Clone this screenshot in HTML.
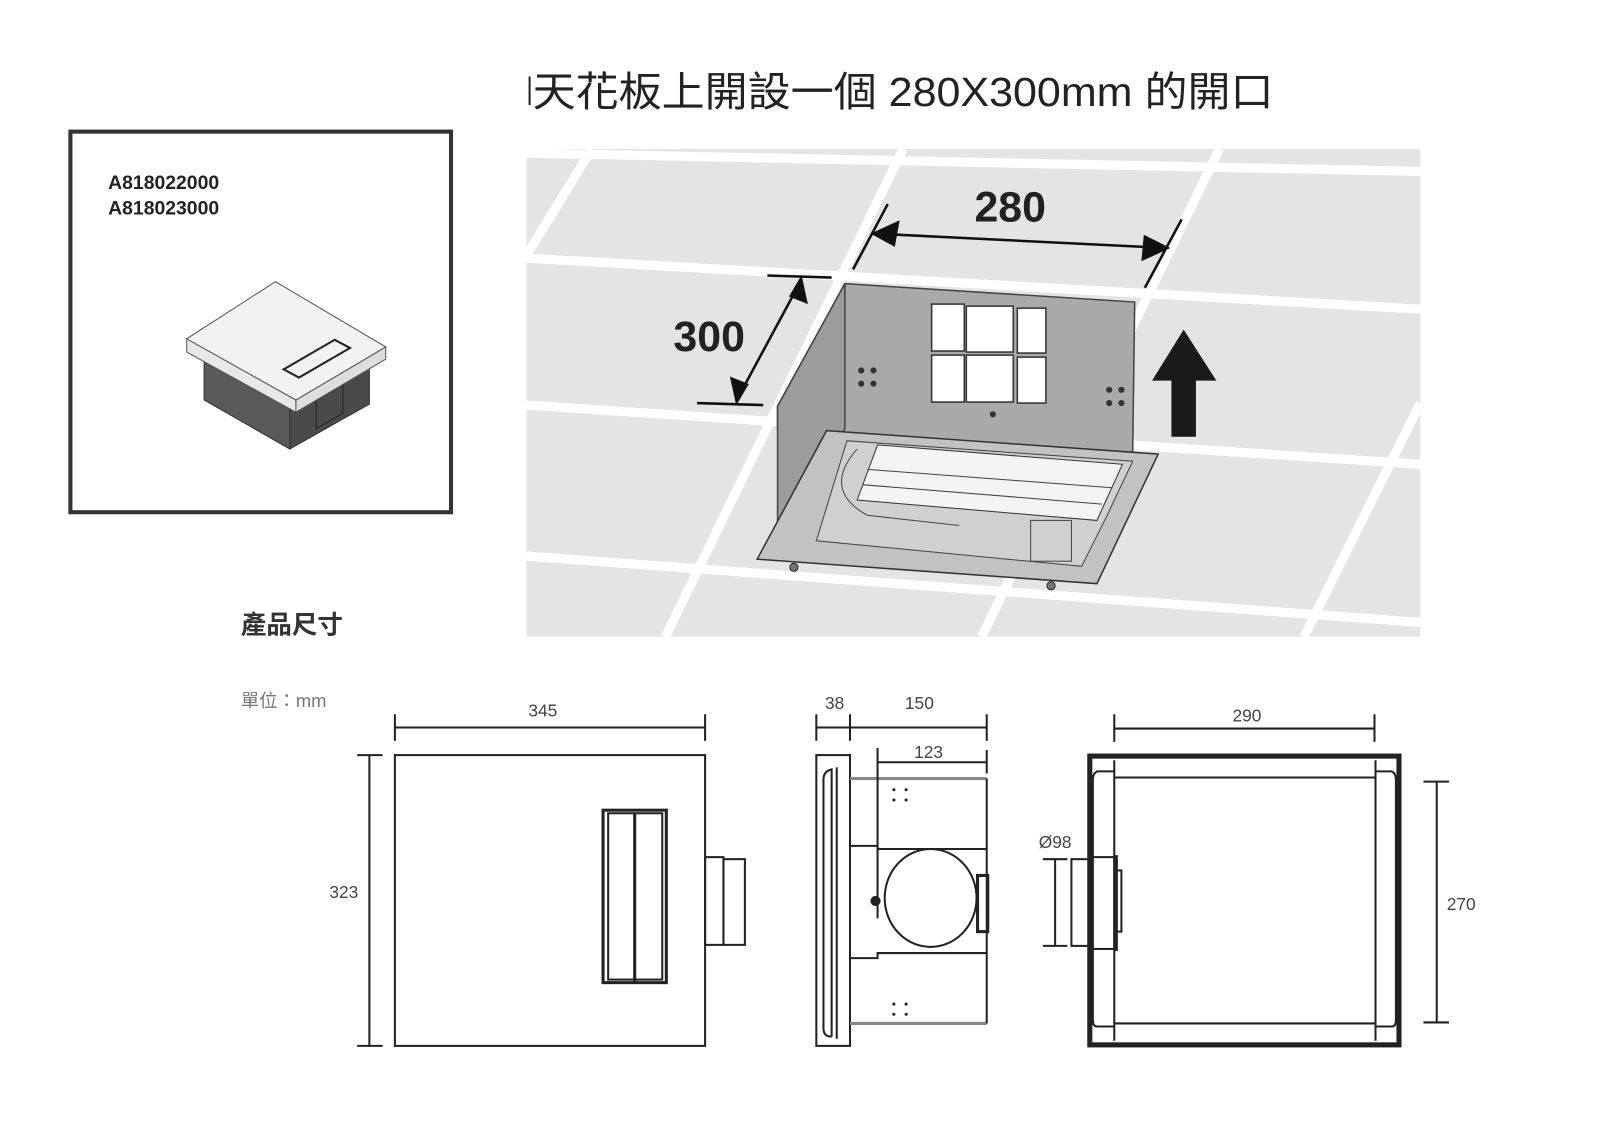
<!DOCTYPE html>
<html><head><meta charset="utf-8"><style>
html,body{margin:0;padding:0;background:#fff;}
svg{display:block;}
text{font-family:"Liberation Sans","Noto Sans CJK TC",sans-serif;}
</style></head><body>
<svg width="1600" height="1131" viewBox="0 0 1568 1108.4" preserveAspectRatio="none" xmlns="http://www.w3.org/2000/svg">
<rect x="518" y="75" width="2" height="28" fill="#222"/>
<text x="522" y="104" font-size="40" fill="#222" textLength="726" lengthAdjust="spacingAndGlyphs" font-family="'Noto Sans CJK TC',sans-serif">天花板上開設一個 280X300mm 的開口</text>

<rect x="69" y="129" width="373" height="373" fill="#fff" stroke="#333" stroke-width="4"/>
<text x="106" y="185" font-size="19" font-weight="bold" fill="#222">A818022000</text>
<text x="106" y="210" font-size="19" font-weight="bold" fill="#222">A818023000</text>
<polygon points="200,345 284,394 284,440 200,392" fill="#5a5a5a" stroke="#333"/>
<polygon points="284,394 362,350 362,396 284,440" fill="#4a4a4a" stroke="#333"/>
<polygon points="310,392 336,377 336,405 310,420" fill="none" stroke="#222"/>
<polygon points="183,332 290,392 290,404 183,345" fill="#e8e8e8" stroke="#555"/>
<polygon points="290,392 378,340 378,352 290,404" fill="#ddd" stroke="#555"/>
<polygon points="270,276 378,340 290,392 183,332" fill="#f2f2f2" stroke="#555"/>
<polygon points="278,362 328,333 343,341 293,370" fill="none" stroke="#222" stroke-width="2"/>

<rect x="516" y="146" width="876" height="478" fill="#e4e4e4"/>
<g stroke="#fff" stroke-width="9" fill="none">
<line x1="516" y1="150" x2="1392" y2="168"/>
<line x1="516" y1="253" x2="1392" y2="303"/>
<line x1="516" y1="397" x2="1392" y2="455"/>
<line x1="516" y1="545" x2="1392" y2="610"/>
<line x1="580" y1="146" x2="516" y2="250"/>
<line x1="885" y1="146" x2="652" y2="624"/>
<line x1="1195" y1="146" x2="962" y2="624"/>
<line x1="1392" y1="395" x2="1278" y2="624"/>
</g>
<polygon points="828,278 1112,296 1110,445 762,420 762,398" fill="#a9a9a9" stroke="#444" stroke-width="1.5"/>
<polygon points="828,278 762,398 762,530 828,420" fill="#9c9c9c" stroke="#444" stroke-width="1.5"/>
<g fill="#fff" stroke="#333" stroke-width="1.5">
<rect x="913" y="298" width="32" height="46"/><rect x="947" y="300" width="46" height="45"/><rect x="997" y="302" width="28" height="44"/>
<rect x="913" y="348" width="32" height="46"/><rect x="947" y="348" width="46" height="46"/><rect x="997" y="350" width="28" height="45"/>
</g>
<g fill="#333"><circle cx="844" cy="363" r="3"/><circle cx="856" cy="363" r="3"/><circle cx="844" cy="376" r="3"/><circle cx="856" cy="376" r="3"/>
<circle cx="1087" cy="382" r="3"/><circle cx="1099" cy="382" r="3"/><circle cx="1087" cy="395" r="3"/><circle cx="1099" cy="395" r="3"/><circle cx="973" cy="406" r="3"/></g>
<polygon points="810,422 1135,445 1075,572 742,548" fill="#c2c2c2" stroke="#333" stroke-width="1.5"/>
<polygon points="830,432 1110,452 1085,505 1060,555 800,530" fill="#d0d0d0" stroke="#444"/>
<polygon points="860,436 1100,455 1075,510 840,490" fill="#f4f4f4" stroke="#333"/>
<g stroke="#444" fill="none"><line x1="850" y1="460" x2="1090" y2="478"/><line x1="845" y1="475" x2="1080" y2="494"/><path d="M840 440 Q805 480 850 505 L940 515"/><rect x="1010" y="510" width="40" height="40"/></g>
<circle cx="778" cy="556" r="4" fill="#777" stroke="#222"/><circle cx="1030" cy="574" r="4" fill="#777" stroke="#222"/>
<polygon points="1160,323 1192,373 1172,373 1172,428 1148,428 1148,373 1129,373" fill="#1a1a1a"/>
<g stroke="#111" stroke-width="2.5" fill="#111">
<line x1="752" y1="270" x2="815" y2="272"/><line x1="683" y1="395" x2="748" y2="397"/>
<line x1="785" y1="275" x2="722" y2="392"/>
<polygon points="785,273 790,296 775,290"/><polygon points="722,394 717,371 732,377"/>
<line x1="870" y1="200" x2="836" y2="264"/><line x1="1158" y1="215" x2="1122" y2="282"/>
<line x1="858" y1="229" x2="1142" y2="243"/>
<polygon points="856,229 880,218 876,240"/><polygon points="1144,243 1120,254 1122,232"/>
</g>
<text x="695" y="344" font-size="42" font-weight="bold" fill="#222" text-anchor="middle">300</text>
<text x="990" y="217" font-size="42" font-weight="bold" fill="#222" text-anchor="middle">280</text>

<text x="236" y="621" font-size="25" font-weight="bold" fill="#333" font-family="'Noto Sans CJK TC',sans-serif">產品尺寸</text>
<text x="236" y="693" font-size="18" fill="#777" font-family="'Noto Sans CJK TC',sans-serif">單位：mm</text>

<g stroke="#222" fill="none" stroke-width="2">
<rect x="387" y="740" width="304" height="285"/>
<line x1="387" y1="713" x2="691" y2="713"/><line x1="387" y1="700" x2="387" y2="726"/><line x1="691" y1="700" x2="691" y2="726"/>
<line x1="362" y1="740" x2="362" y2="1025"/><line x1="350" y1="740" x2="375" y2="740"/><line x1="350" y1="1025" x2="375" y2="1025"/>
<rect x="591" y="794" width="62" height="169" stroke-width="3"/>
<rect x="596" y="797" width="53" height="163"/>
<line x1="622" y1="797" x2="622" y2="962" stroke-width="3"/>
<rect x="691" y="840" width="18" height="86"/><rect x="709" y="842" width="21" height="84"/>
<rect x="800" y="740" width="33" height="285"/>
<path d="M815 1016 L815 754 Q807 756 807 764 L807 1008 Q807 1016 815 1016"/>
<line x1="820" y1="752" x2="820" y2="1018"/>
<line x1="833" y1="763" x2="967" y2="763" stroke="#888" stroke-width="3"/>
<line x1="833" y1="1003" x2="967" y2="1003" stroke="#888" stroke-width="3"/>
<line x1="967" y1="763" x2="967" y2="1003"/>
<path d="M833 829 L860 829 L860 832 L967 832 M833 939 L860 939 L860 934 L967 934"/>
<line x1="860" y1="733" x2="860" y2="900"/>
<ellipse cx="912" cy="880" rx="45" ry="48"/>
<rect x="958" y="858" width="10" height="55" stroke-width="3"/>
<circle cx="858" cy="883" r="4" fill="#222"/>
<line x1="800" y1="713" x2="967" y2="713"/><line x1="800" y1="700" x2="800" y2="726"/><line x1="833" y1="700" x2="833" y2="726"/><line x1="967" y1="700" x2="967" y2="726"/>
<line x1="860" y1="747" x2="967" y2="747"/><line x1="967" y1="735" x2="967" y2="758"/>
<rect x="1068" y="741" width="303" height="283" stroke-width="5"/>
<line x1="1092" y1="745" x2="1092" y2="1020"/><line x1="1348" y1="745" x2="1348" y2="1020"/>
<line x1="1092" y1="762" x2="1348" y2="762"/><line x1="1092" y1="1003" x2="1348" y2="1003"/>
<path d="M1092 756 L1075 756 Q1071 758 1071 764 L1071 1000 Q1071 1006 1075 1006 L1092 1006"/>
<path d="M1348 756 L1364 756 Q1368 758 1368 764 L1368 1000 Q1368 1006 1364 1006 L1348 1006"/>
<rect x="1050" y="842" width="18" height="85"/><rect x="1068" y="840" width="24" height="90"/>
<line x1="1094" y1="838" x2="1094" y2="932" stroke-width="3"/><rect x="1094" y="853" width="5" height="60"/>
<line x1="1034" y1="842" x2="1034" y2="927"/><line x1="1022" y1="842" x2="1046" y2="842"/><line x1="1022" y1="927" x2="1046" y2="927"/>
<line x1="1092" y1="714" x2="1347" y2="714"/><line x1="1092" y1="700" x2="1092" y2="727"/><line x1="1347" y1="700" x2="1347" y2="727"/>
<line x1="1408" y1="766" x2="1408" y2="1002"/><line x1="1395" y1="766" x2="1420" y2="766"/><line x1="1395" y1="1002" x2="1420" y2="1002"/>
</g>
<g fill="#222"><circle cx="876" cy="774" r="1.5"/><circle cx="888" cy="774" r="1.5"/><circle cx="876" cy="784" r="1.5"/><circle cx="888" cy="784" r="1.5"/>
<circle cx="876" cy="984" r="1.5"/><circle cx="888" cy="984" r="1.5"/><circle cx="876" cy="994" r="1.5"/><circle cx="888" cy="994" r="1.5"/></g>
<g font-size="17" fill="#444" text-anchor="middle">
<text x="532" y="702">345</text><text x="337" y="880">323</text>
<text x="818" y="695">38</text><text x="901" y="695">150</text><text x="910" y="743">123</text>
<text x="1222" y="707">290</text><text x="1432" y="892">270</text><text x="1034" y="831">Ø98</text>
</g>
</svg>
</body></html>
